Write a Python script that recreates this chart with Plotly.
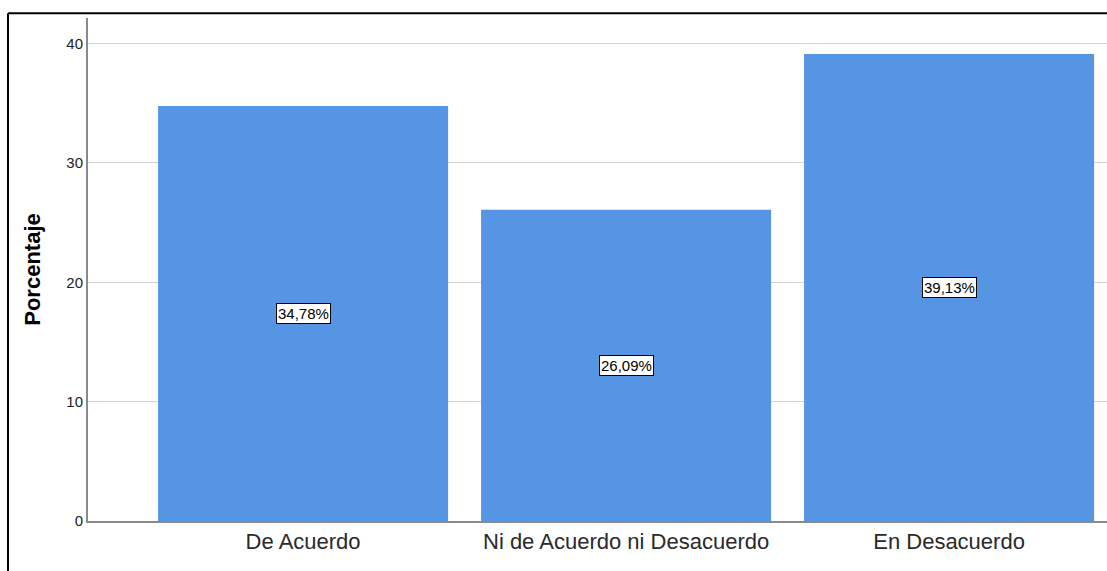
import plotly.graph_objects as go

# Response categories and their percentages
categorias = ["De Acuerdo", "Ni de Acuerdo ni Desacuerdo", "En Desacuerdo"]
porcentajes = [34.78, 26.09, 39.13]
etiquetas = ["34,78%", "26,09%", "39,13%"]
y_ticks = [0, 10, 20, 30, 40]

BAR_COLOR = "#5595e4"
AXIS_COLOR = "#8a8a8a"
GRID_COLOR = "#d4d4d4"
FONT = "Liberation Sans, Arial"

fig = go.Figure()
fig.add_trace(go.Bar(
    x=categorias,
    y=porcentajes,
    marker=dict(color=BAR_COLOR, line=dict(width=0)),
    hoverinfo="skip",
))

# Value labels in boxed annotations at half bar height
for cat, val, lab in zip(categorias, porcentajes, etiquetas):
    fig.add_annotation(
        x=cat, y=val / 2, text=lab, showarrow=False,
        font=dict(family=FONT, size=15, color="black"),
        bgcolor="white", bordercolor="black", borderwidth=1, borderpad=1,
    )

# Outer frame of the chart
fig.add_shape(type="line", xref="paper", yref="paper",
              x0=-0.0785, x1=1.05, y0=1.0095, y1=1.0095,
              line=dict(color="black", width=2))
fig.add_shape(type="line", xref="paper", yref="paper",
              x0=-0.0785, x1=-0.0785, y0=1.0095, y1=-0.3,
              line=dict(color="black", width=2))

fig.update_layout(
    width=1107, height=571,
    margin=dict(l=88, r=0, t=18, b=50),
    paper_bgcolor="white", plot_bgcolor="white",
    bargap=0.102,
    showlegend=False,
    font=dict(family=FONT, color="black"),
    xaxis=dict(
        range=[-0.666, 2.489],
        showgrid=False, zeroline=False,
        showline=True, linecolor=AXIS_COLOR, linewidth=2,
        ticks="", tickfont=dict(size=22, color="#2a2a2a"),
        fixedrange=True,
    ),
    yaxis=dict(
        range=[0, 42.15],
        tickvals=y_ticks,
        showgrid=True, gridcolor=GRID_COLOR, gridwidth=1,
        zeroline=False,
        showline=True, linecolor=AXIS_COLOR, linewidth=2,
        ticks="", tickfont=dict(size=15, color="#222222"),
        title=dict(text="<b>Porcentaje</b>", font=dict(size=22, color="black"), standoff=20),
        fixedrange=True,
    ),
)

fig.write_html("out.html", config={"displayModeBar": False})
